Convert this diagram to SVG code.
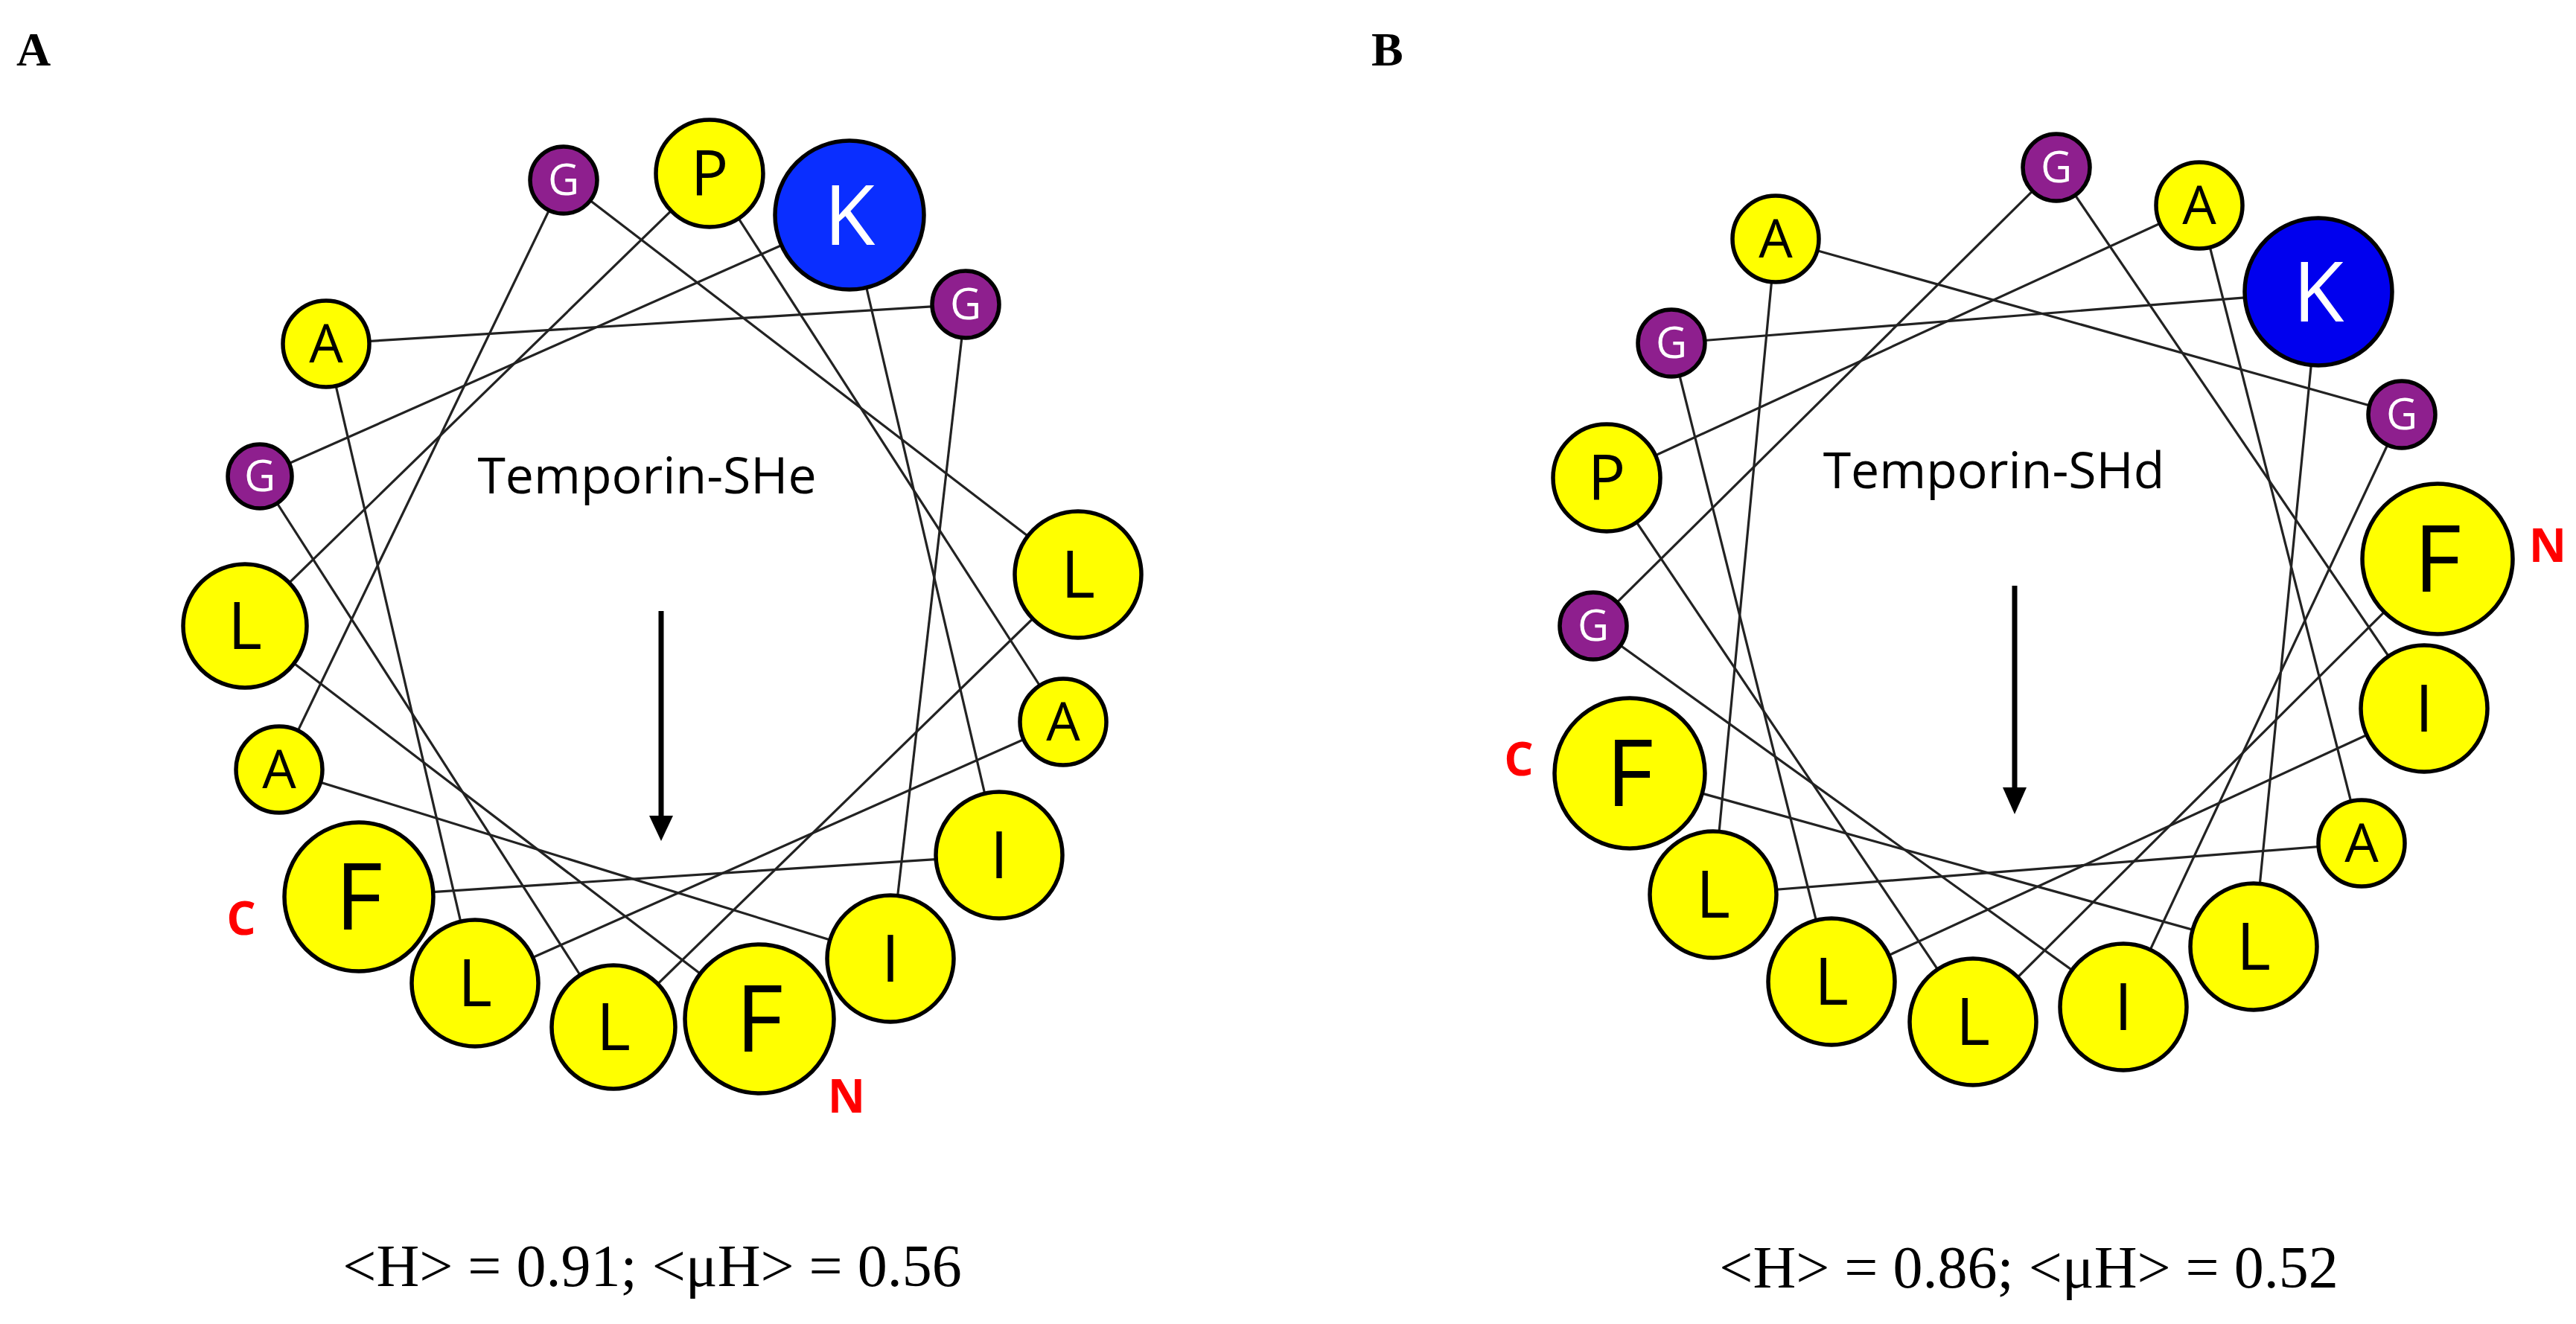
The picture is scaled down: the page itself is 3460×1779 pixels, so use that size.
<svg xmlns="http://www.w3.org/2000/svg" width="3460" height="1779" viewBox="0 0 3460 1779">
<style>
.y{fill:#FFFF00;stroke:#000;stroke-width:5.5}
.g{fill:#8E1F8E;stroke:#000;stroke-width:5.5}
.k{fill:#0A2EFF;stroke:#000;stroke-width:5.5}
.kb{fill:#0000EE;stroke:#000;stroke-width:5.5}
.t{font-family:"Open Sans","Liberation Sans",sans-serif;text-anchor:middle;fill:#000}
.w{fill:#fff}
.c line{stroke:#222;stroke-width:3.2}
.r{font-family:"Open Sans","Liberation Sans",sans-serif;font-weight:bold;fill:#FF0000;font-size:62px;text-anchor:middle}
.s{font-family:"Liberation Serif",serif;font-size:80px;text-anchor:middle}
.h{font-family:"Liberation Serif",serif;font-weight:bold;font-size:64px}
</style>
<rect width="3460" height="1779" fill="#fff"/>
<text class="h" x="22" y="88">A</text>
<text class="h" x="1842" y="88">B</text>
<g id="connectorsA" class="c">
<line x1="1020" y1="1369" x2="329" y2="841"/>
<line x1="329" y1="841" x2="953" y2="233"/>
<line x1="953" y1="233" x2="1428" y2="970"/>
<line x1="1428" y1="970" x2="638" y2="1321"/>
<line x1="638" y1="1321" x2="438" y2="462"/>
<line x1="438" y1="462" x2="1297" y2="409"/>
<line x1="1297" y1="409" x2="1196" y2="1288"/>
<line x1="1196" y1="1288" x2="375" y2="1034"/>
<line x1="375" y1="1034" x2="757" y2="242"/>
<line x1="757" y1="242" x2="1448" y2="772"/>
<line x1="1448" y1="772" x2="824" y2="1380"/>
<line x1="824" y1="1380" x2="349" y2="640"/>
<line x1="349" y1="640" x2="1141" y2="289"/>
<line x1="1141" y1="289" x2="1342" y2="1149"/>
<line x1="1342" y1="1149" x2="482" y2="1205"/>
</g>
<g id="connectorsB" class="c">
<line x1="3274" y1="751" x2="2650" y2="1373"/>
<line x1="2650" y1="1373" x2="2158" y2="642"/>
<line x1="2158" y1="642" x2="2954" y2="276"/>
<line x1="2954" y1="276" x2="3172" y2="1133"/>
<line x1="3172" y1="1133" x2="2301" y2="1202"/>
<line x1="2301" y1="1202" x2="2385" y2="321"/>
<line x1="2385" y1="321" x2="3226" y2="557"/>
<line x1="3226" y1="557" x2="2852" y2="1353"/>
<line x1="2852" y1="1353" x2="2140" y2="841"/>
<line x1="2140" y1="841" x2="2762" y2="225"/>
<line x1="2762" y1="225" x2="3256" y2="952"/>
<line x1="3256" y1="952" x2="2460" y2="1319"/>
<line x1="2460" y1="1319" x2="2245" y2="461"/>
<line x1="2245" y1="461" x2="3114" y2="392"/>
<line x1="3114" y1="392" x2="3027" y2="1272"/>
<line x1="3027" y1="1272" x2="2189" y2="1039"/>
</g>
<g id="A-G1"><circle class="g" cx="757" cy="242" r="45"/><text class="t w" x="757" y="262" font-size="58">G</text></g>
<g id="A-P"><circle class="y" cx="953" cy="233" r="72"/><text class="t" x="953" y="263" font-size="84">P</text></g>
<g id="A-K"><circle class="k" cx="1141" cy="289" r="100"/><text class="t w" x="1141" y="329" font-size="112">K</text></g>
<g id="A-G2"><circle class="g" cx="1297" cy="409" r="45"/><text class="t w" x="1297" y="429" font-size="58">G</text></g>
<g id="A-A1"><circle class="y" cx="438" cy="462" r="58"/><text class="t" x="438" y="487" font-size="72">A</text></g>
<g id="A-G3"><circle class="g" cx="349" cy="640" r="43"/><text class="t w" x="349" y="660" font-size="58">G</text></g>
<g id="A-L1"><circle class="y" cx="1448" cy="772" r="85"/><text class="t" x="1448" y="803" font-size="88">L</text></g>
<g id="A-L2"><circle class="y" cx="329" cy="841" r="83"/><text class="t" x="329" y="872" font-size="88">L</text></g>
<g id="A-A2"><circle class="y" cx="1428" cy="970" r="58"/><text class="t" x="1428" y="995" font-size="72">A</text></g>
<g id="A-A3"><circle class="y" cx="375" cy="1034" r="58"/><text class="t" x="375" y="1059" font-size="72">A</text></g>
<g id="A-F1"><circle class="y" cx="482" cy="1205" r="100"/><text class="t" x="482" y="1249" font-size="124">F</text></g>
<g id="A-I1"><circle class="y" cx="1342" cy="1149" r="85"/><text class="t" x="1342" y="1180" font-size="88">I</text></g>
<g id="A-I2"><circle class="y" cx="1196" cy="1288" r="85"/><text class="t" x="1196" y="1319" font-size="88">I</text></g>
<g id="A-L3"><circle class="y" cx="638" cy="1321" r="85"/><text class="t" x="638" y="1352" font-size="88">L</text></g>
<g id="A-L4"><circle class="y" cx="824" cy="1380" r="83"/><text class="t" x="824" y="1411" font-size="88">L</text></g>
<g id="A-F2"><circle class="y" cx="1020" cy="1369" r="100"/><text class="t" x="1020" y="1413" font-size="124">F</text></g>
<g id="A-labels">
<text class="r" x="324" y="1256">C</text>
<text class="r" x="1137" y="1495">N</text>
<text class="t" x="869" y="663" font-size="68">Temporin-SHe</text>
<line x1="888" y1="821" x2="888" y2="1100" stroke="#000" stroke-width="7"/>
<polygon points="872,1096 904,1096 888,1130" fill="#000"/>
<text class="s" x="876" y="1728">&lt;H&gt; = 0.91; &lt;μH&gt; = 0.56</text>
</g>
<g id="B-G1"><circle class="g" cx="2762" cy="225" r="45"/><text class="t w" x="2762" y="245" font-size="58">G</text></g>
<g id="B-A1"><circle class="y" cx="2954" cy="276" r="58"/><text class="t" x="2954" y="301" font-size="72">A</text></g>
<g id="B-A2"><circle class="y" cx="2385" cy="321" r="58"/><text class="t" x="2385" y="346" font-size="72">A</text></g>
<g id="B-K"><circle class="kb" cx="3114" cy="392" r="99"/><text class="t w" x="3114" y="432" font-size="112">K</text></g>
<g id="B-G2"><circle class="g" cx="2245" cy="461" r="45"/><text class="t w" x="2245" y="481" font-size="58">G</text></g>
<g id="B-G3"><circle class="g" cx="3226" cy="557" r="45"/><text class="t w" x="3226" y="577" font-size="58">G</text></g>
<g id="B-P"><circle class="y" cx="2158" cy="642" r="72"/><text class="t" x="2158" y="672" font-size="84">P</text></g>
<g id="B-F1"><circle class="y" cx="3274" cy="751" r="101"/><text class="t" x="3274" y="795" font-size="124">F</text></g>
<g id="B-G4"><circle class="g" cx="2140" cy="841" r="45"/><text class="t w" x="2140" y="861" font-size="58">G</text></g>
<g id="B-I1"><circle class="y" cx="3256" cy="952" r="85"/><text class="t" x="3256" y="983" font-size="88">I</text></g>
<g id="B-F2"><circle class="y" cx="2189" cy="1039" r="101"/><text class="t" x="2189" y="1083" font-size="124">F</text></g>
<g id="B-A3"><circle class="y" cx="3172" cy="1133" r="58"/><text class="t" x="3172" y="1158" font-size="72">A</text></g>
<g id="B-L1"><circle class="y" cx="2301" cy="1202" r="85"/><text class="t" x="2301" y="1233" font-size="88">L</text></g>
<g id="B-L2"><circle class="y" cx="3027" cy="1272" r="85"/><text class="t" x="3027" y="1303" font-size="88">L</text></g>
<g id="B-L3"><circle class="y" cx="2460" cy="1319" r="85"/><text class="t" x="2460" y="1350" font-size="88">L</text></g>
<g id="B-I2"><circle class="y" cx="2852" cy="1353" r="85"/><text class="t" x="2852" y="1384" font-size="88">I</text></g>
<g id="B-L4"><circle class="y" cx="2650" cy="1373" r="85"/><text class="t" x="2650" y="1404" font-size="88">L</text></g>
<g id="B-labels">
<text class="r" x="2040" y="1042">C</text>
<text class="r" x="3422" y="755">N</text>
<text class="t" x="2678" y="656" font-size="68">Temporin-SHd</text>
<line x1="2706" y1="787" x2="2706" y2="1062" stroke="#000" stroke-width="7"/>
<polygon points="2690,1058 2722,1058 2706,1094" fill="#000"/>
<text class="s" x="2725" y="1730">&lt;H&gt; = 0.86; &lt;μH&gt; = 0.52</text>
</g>
</svg>
